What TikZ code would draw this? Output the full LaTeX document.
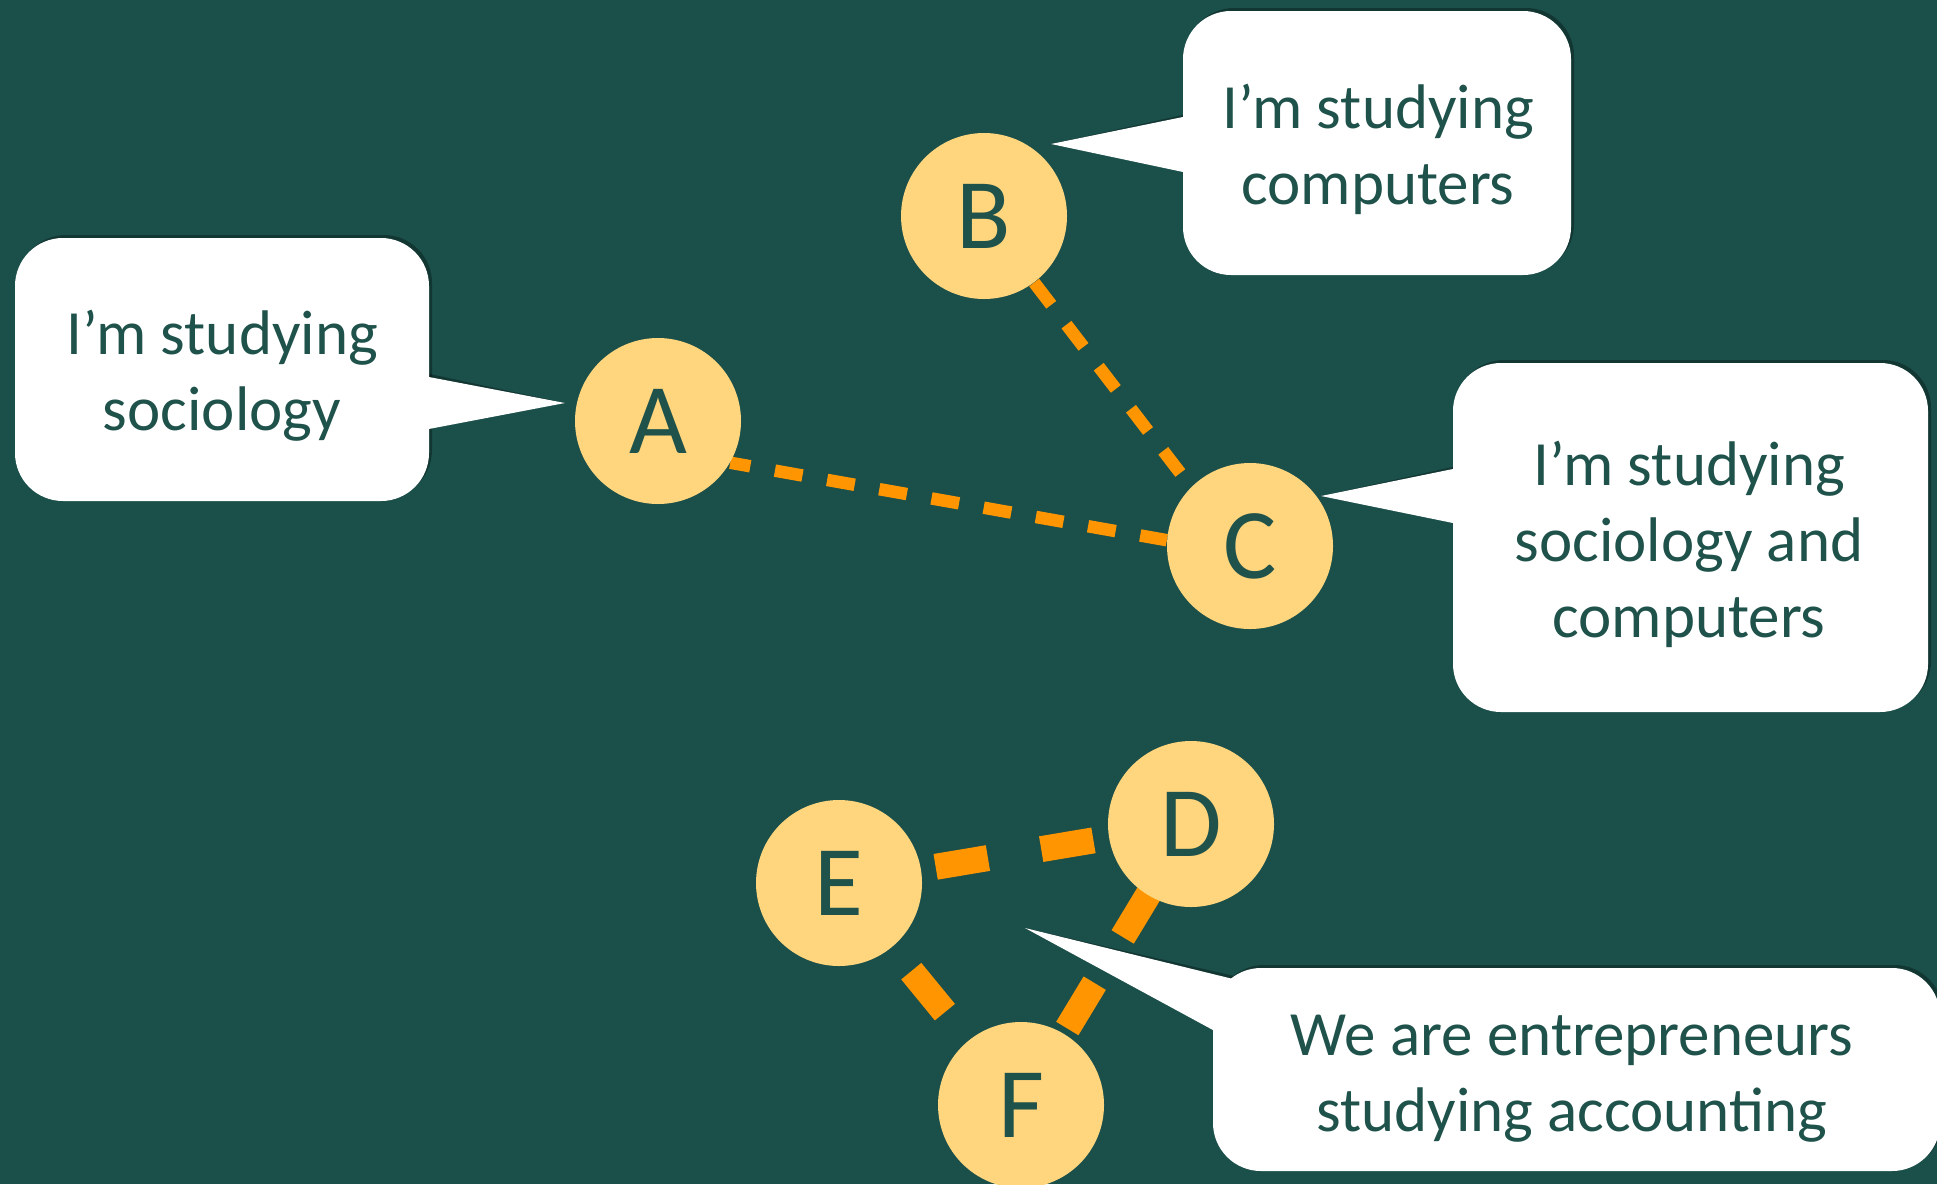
\documentclass[tikz,border=0pt]{standalone}
\usepackage{fontspec}
\setmainfont{Carlito}
\usetikzlibrary{calc}
\definecolor{bg}{RGB}{27,79,74}
\definecolor{ink}{RGB}{31,82,74}
\definecolor{disc}{RGB}{255,213,125}
\definecolor{linkorange}{RGB}{255,149,0}
\pgfdeclarelayer{back}
\pgfsetlayers{back,main}
\begin{document}
\begin{tikzpicture}[x=0.5pt,y=-0.5pt,
  person/.style={circle, fill=disc, minimum size=83pt, inner sep=0pt, text=ink,
    font=\fontsize{50}{60}\selectfont},
  weaklink/.style={draw=linkorange, line width=6.25pt, dash pattern=on 14pt off 12.5pt},
  stronglink/.style={draw=linkorange, line width=13pt, dash pattern=on 26.5pt off 27pt},
  bubble/.style={fill=white, rounded corners=24pt, inner sep=0pt},
  bubbleshade/.style={fill=black, fill opacity=0.3, rounded corners=24pt, inner sep=0pt,
    xshift=1.5pt, yshift=1.5pt},
  tailshade/.style={fill=black, fill opacity=0.3, shift={(3,-3)}},
  saytext/.style={text=ink, align=center, inner sep=0pt,
    font=\fontsize{31.5}{38}\selectfont},
]
\begin{pgfonlayer}{back}
\fill[bg] (0,0) rectangle (1937,1184);
\end{pgfonlayer}
\useasboundingbox (0,0) rectangle (1937,1184);

% people
\node[person] (A) at (658,421) {A};
\node[person] (B) at (984,216) {B};
\node[person] (C) at (1250,546) {C};
\node[person] (D) at (1191,824) {D};
\node[person] (E) at (839,883) {E};
\node[person] (F) at (1021,1105) {F};

% links
\begin{pgfonlayer}{back}
\draw[weaklink, dash phase=3.8pt] (A.-30) -- (C.176);
\draw[weaklink] (B.-53) -- (C.135);
\draw[stronglink, dash phase=4.5pt] (E.center) -- (D.center);
\draw[stronglink, dash phase=14pt] (D.center) -- (F.center);
\draw[stronglink, dash phase=50pt] (E.center) -- (F.center);
\end{pgfonlayer}

% tips
\coordinate (tipA) at (565,403);
\coordinate (tipB) at (1051,144);
\coordinate (tipC) at (1321,496);
\coordinate (tipD) at (1025,928);

% shadows
\node[bubbleshade, minimum width=207pt, minimum height=131.5pt] (shA) at (222,369.5) {};
\node[bubbleshade, minimum width=194pt, minimum height=132pt] (shB) at (1377,143) {};
\node[bubbleshade, minimum width=237.5pt, minimum height=174.5pt] (shC) at (1690.5,537.5) {};
\node[bubbleshade, minimum width=363.5pt, minimum height=101.5pt] (shD) at (1576.5,1069.5) {};
\fill[tailshade] (tipA) -- (410,373.4) -- (410,432.6) -- cycle;
\fill[tailshade] (tipB) -- (1200,113.5) -- (1200,175.6) -- cycle;
\fill[tailshade] (tipC) -- (1470,465.5) -- (1470,526.5) -- cycle;
\fill[tailshade] (tipD) -- (1260,985.6) -- (1240,1044.7) -- cycle;

% bubbles
\node[bubble, minimum width=207pt, minimum height=131.5pt] (boxA) at (222,369.5) {};
\node[bubble, minimum width=194pt, minimum height=132pt] (boxB) at (1377,143) {};
\node[bubble, minimum width=237.5pt, minimum height=174.5pt] (boxC) at (1690.5,537.5) {};
\node[bubble, minimum width=363.5pt, minimum height=101.5pt] (boxD) at (1576.5,1069.5) {};
\fill[white] (tipA) -- (410,373.4) -- (410,432.6) -- cycle;
\fill[white] (tipB) -- (1200,113.5) -- (1200,175.6) -- cycle;
\fill[white] (tipC) -- (1470,465.5) -- (1470,526.5) -- cycle;
\fill[white] (tipD) -- (1260,985.6) -- (1240,1044.7) -- cycle;

% texts
\node[saytext] (txtA) at (222,376) {I’m studying\\sociology};
\node[saytext] (txtB) at (1378,149) {I’m studying\\computers};
\node[saytext] (txtC) at (1689,544) {I’m studying\\sociology and\\computers};
\node[saytext] (txtD) at (1572,1078.5) {We are entrepreneurs\\studying accounting};
\end{tikzpicture}
\end{document}
